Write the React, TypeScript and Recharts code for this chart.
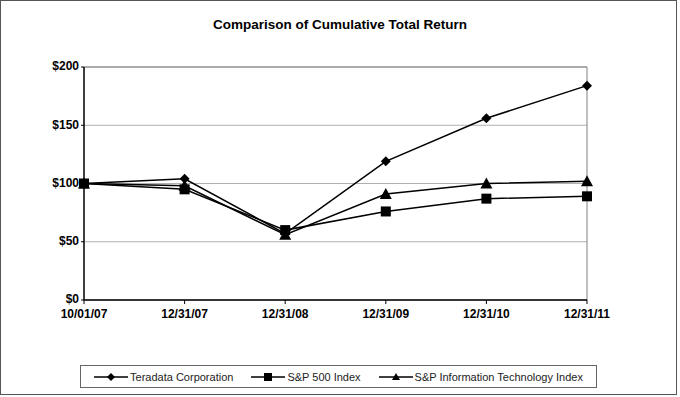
import React from 'react';
import { LineChart, Line, XAxis, YAxis, CartesianGrid, ReferenceLine } from 'recharts';

const categories = ['10/01/07', '12/31/07', '12/31/08', '12/31/09', '12/31/10', '12/31/11'];
const teradata = [100, 104, 57, 119, 156, 184];
const sp500 = [100, 95, 60, 76, 87, 89];
const spIT = [100, 98, 56, 91, 100, 102];
const yTicks = [0, 50, 100, 150, 200];
const seriesNames = ['Teradata Corporation', 'S&P 500 Index', 'S&P Information Technology Index'];

const data = categories.map((c, i) => ({ date: c, teradata: teradata[i], sp500: sp500[i], spIT: spIT[i] }));

const Diamond = (props: any) => {
  const { cx, cy } = props;
  if (cx == null || cy == null) return null;
  const r = 5;
  return <path d={`M${cx},${cy - r}L${cx + r},${cy}L${cx},${cy + r}L${cx - r},${cy}Z`} fill="#000" />;
};
const Square = (props: any) => {
  const { cx, cy } = props;
  if (cx == null || cy == null) return null;
  const r = 5;
  return <rect x={cx - r} y={cy - r} width={2 * r} height={2 * r} fill="#000" />;
};
const Triangle = (props: any) => {
  const { cx, cy } = props;
  if (cx == null || cy == null) return null;
  const r = 6;
  return <path d={`M${cx},${cy - r}L${cx + r},${cy + r - 1}L${cx - r},${cy + r - 1}Z`} fill="#000" />;
};

const LegendIcon = ({ kind }: { kind: number }) => (
  <svg width={34} height={10} style={{ verticalAlign: 'middle', marginRight: 2 }}>
    <line x1={0} y1={5} x2={34} y2={5} stroke="#000" strokeWidth={1.5} />
    {kind === 0 && <path d="M17,1L21,5L17,9L13,5Z" fill="#000" />}
    {kind === 1 && <rect x={13} y={1} width={8} height={8} fill="#000" />}
    {kind === 2 && <path d="M17,1L21,8L13,8Z" fill="#000" />}
  </svg>
);

const tickStyle = { fontFamily: 'Arial, "Liberation Sans", sans-serif', fontSize: 12, fontWeight: 700, fill: '#000' };

export default function App() {
  return (
    <div style={{ position: 'absolute', left: 0, top: 0, width: 680, height: 397, background: '#fff' }}>
      <div style={{ position: 'absolute', left: 0, top: 0, width: 677, height: 395, border: '1px solid #555', boxSizing: 'border-box' }} />
      <div style={{ position: 'absolute', left: 0, top: 17, width: 680, textAlign: 'center', fontFamily: 'Arial, "Liberation Sans", sans-serif', fontWeight: 700, fontSize: 13.5, color: '#000' }}>
        Comparison of Cumulative Total Return
      </div>
      <div style={{ position: 'absolute', left: 0, top: 0 }}>
        <LineChart width={680} height={397} data={data} margin={{ top: 67, right: 93, left: 24, bottom: 67 }}>
          <CartesianGrid horizontal vertical={false} stroke="#b0b0b0" strokeWidth={1} />
          <ReferenceLine y={200} stroke="#808080" strokeWidth={1} />
          <ReferenceLine x="12/31/11" stroke="#808080" strokeWidth={1} />
          <XAxis
            dataKey="date"
            tick={{ ...tickStyle, dy: 3 }}
            axisLine={{ stroke: '#000', strokeWidth: 1.5 }}
            tickLine={{ stroke: '#000' }}
            tickSize={4}
            height={30}
            interval={0}
          />
          <YAxis
            domain={[0, 200]}
            ticks={yTicks}
            tickFormatter={(v: number) => `$${v}`}
            tick={{ ...tickStyle, dy: -1 }}
            axisLine={{ stroke: '#000', strokeWidth: 1.5 }}
            tickLine={{ stroke: '#000' }}
            tickSize={3}
            width={60}
          />
          <Line dataKey="teradata" stroke="#000" strokeWidth={1.5} dot={<Diamond />} isAnimationActive={false} />
          <Line dataKey="sp500" stroke="#000" strokeWidth={1.5} dot={<Square />} isAnimationActive={false} />
          <Line dataKey="spIT" stroke="#000" strokeWidth={1.5} dot={<Triangle />} isAnimationActive={false} />
        </LineChart>
      </div>
      <div
        style={{
          position: 'absolute', left: 80, top: 365, width: 517, height: 23, border: '1px solid #666', boxSizing: 'border-box',
          display: 'flex', alignItems: 'center', justifyContent: 'center', gap: 18,
          fontFamily: 'Arial, "Liberation Sans", sans-serif', fontSize: 11, color: '#222',
        }}
      >
        {seriesNames.map((n, i) => (
          <span key={n} style={{ display: 'flex', alignItems: 'center' }}>
            <LegendIcon kind={i} />
            {n}
          </span>
        ))}
      </div>
    </div>
  );
}
